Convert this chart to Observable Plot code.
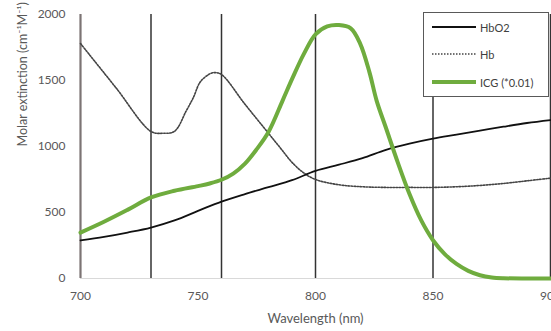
<!DOCTYPE html>
<html>
<head>
<meta charset="utf-8">
<script src="https://cdn.jsdelivr.net/npm/d3@7"></script>
<script src="https://cdn.jsdelivr.net/npm/@observablehq/plot@0.6"></script>
<style>
  html, body { margin: 0; padding: 0; background: white; overflow: hidden; }
  #wrap { position: relative; width: 551px; height: 331px; }
  #legend { position: absolute; left: 423px; top: 12px; width: 124px; height: 83px;
    border: 1px solid #595959; background: white; font-family: Lato, sans-serif; font-size: 11px; color: #404040; }
  .item { position: absolute; left: 8px; height: 14px; display: flex; align-items: center; }
  .item svg { margin-right: 4px; }
</style>
</head>
<body>
<div id="wrap"></div>
<script>
// Wavelength grid lines (nm)
const gridLines = [700, 730, 760, 800, 850, 900];
const xTicks = [700, 750, 800, 850, 900];
const yTicks = [0, 500, 1000, 1500, 2000];

// HbO2 molar extinction
const hbo2Nm  = [700, 710, 720, 730, 740, 750, 760, 770, 780, 790, 800, 810, 820, 830, 840, 850, 860, 870, 880, 890, 900];
const hbo2Val = [288, 315, 348, 386, 440, 512, 583, 640, 692, 745, 815, 862, 912, 975, 1022, 1060, 1090, 1120, 1150, 1178, 1200];

// Hb molar extinction
const hbNm  = [700, 715, 730, 735, 740, 745, 748, 751, 755, 757, 760, 770, 780, 785, 790, 795, 800, 810, 820, 830, 840, 850, 860, 870, 880, 890, 900];
const hbVal = [1780, 1447, 1114, 1100, 1115, 1270, 1370, 1490, 1550, 1560, 1545, 1320, 1100, 990, 880, 800, 750, 710, 695, 690, 690, 690, 695, 705, 720, 740, 760];

// ICG (*0.01)
const icgNm  = [700, 710, 720, 730, 740, 750, 755, 760, 765, 770, 775, 780, 786, 790, 795, 800, 805, 810, 815, 819, 823, 826, 830, 835, 840, 845, 850, 855, 860, 865, 870, 875, 880, 890, 900];
const icgVal = [348, 430, 520, 614, 665, 700, 720, 748, 795, 870, 980, 1110, 1348, 1510, 1700, 1850, 1910, 1920, 1895, 1780, 1560, 1348, 1140, 880, 640, 440, 290, 185, 110, 58, 25, 8, 2, 0, 0];

const zip = (xs, ys) => xs.map((x, i) => ({x, y: ys[i]}));
const hbo2 = zip(hbo2Nm, hbo2Val);
const hb = zip(hbNm, hbVal);
const icg = zip(icgNm, icgVal);

const chart = Plot.plot({
  width: 551,
  height: 331,
  marginLeft: 80,
  marginRight: 1,
  marginTop: 14,
  marginBottom: 53,
  x: {domain: [700, 900]},
  y: {domain: [0, 2000]},
  style: {fontFamily: "Lato, sans-serif", fontSize: "12px", color: "#595959", background: "white", overflow: "visible"},
  marks: [
    Plot.ruleY([0], {stroke: "#d9d9d9", strokeWidth: 1.2}),
    Plot.ruleX(gridLines.slice(1), {y1: 0, y2: 2000, stroke: "#333", strokeWidth: 1.5}),
    Plot.ruleX(gridLines.slice(0, 1), {y1: 0, y2: 2000, stroke: "#7c7474", strokeWidth: 2.2}),
    Plot.line(hb, {x: "x", y: "y", stroke: "#444", strokeWidth: 1.6, strokeDasharray: "1.5,1.5", curve: "catmull-rom"}),
    Plot.line(hbo2, {x: "x", y: "y", stroke: "#111", strokeWidth: 1.8, curve: "catmull-rom"}),
    Plot.line(icg, {x: "x", y: "y", stroke: "#6fac3e", strokeWidth: 4, curve: "catmull-rom"}),
    Plot.axisX({ticks: xTicks, tickSize: 0, tickPadding: 13, tickFormat: d => String(d), label: null, fill: "#595959"}),
    Plot.axisY({ticks: yTicks, tickSize: 0, tickPadding: 15, tickFormat: d => String(d), label: null, fill: "#595959"}),
    Plot.text(["Wavelength (nm)"], {frameAnchor: "bottom", dy: 44, fontSize: 13, fill: "#595959"}),
    Plot.text(["Molar extinction (cm⁻¹M⁻¹)"], {frameAnchor: "left", rotate: -90, dx: -58, fontSize: 12.5, fill: "#595959"})
  ]
});

const wrap = document.getElementById("wrap");
wrap.appendChild(chart);

// Legend inside the plot area
const legendItems = [
  {label: "HbO2", stroke: "#111", width: 1.8, dash: null},
  {label: "Hb", stroke: "#444", width: 1.6, dash: "1.5,1.5"},
  {label: "ICG (*0.01)", stroke: "#6fac3e", width: 4, dash: null}
];
const legend = document.createElement("div");
legend.id = "legend";
const tops = [7, 34, 62];
legendItems.forEach((it, i) => {
  const row = document.createElement("div");
  row.className = "item";
  row.style.top = tops[i] + "px";
  row.innerHTML = `<svg width="44" height="10"><line x1="0" x2="44" y1="5" y2="5" stroke="${it.stroke}" stroke-width="${it.width}" ${it.dash ? `stroke-dasharray="${it.dash}"` : ""}/></svg><span>${it.label}</span>`;
  legend.appendChild(row);
});
wrap.appendChild(legend);
</script>
</body>
</html>
